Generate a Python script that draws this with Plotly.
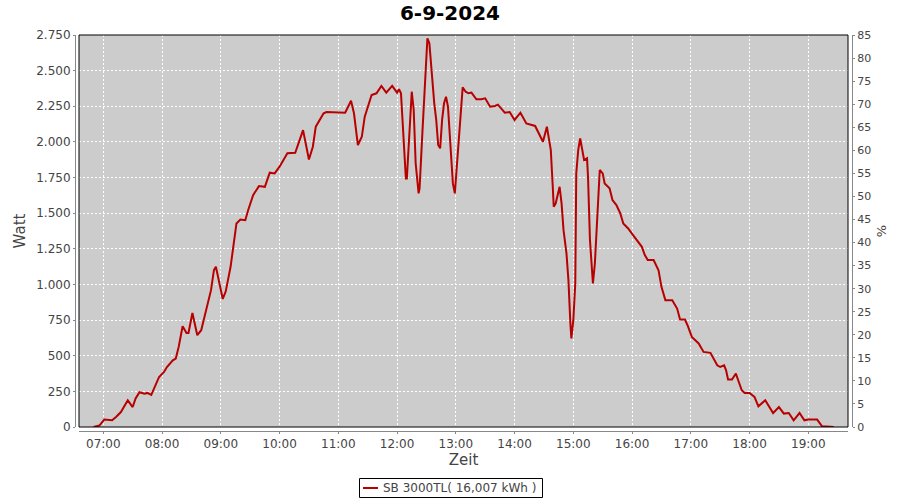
import plotly.graph_objects as go

DAY = "2024-09-06 "
times = ["06:50","06:56","07:01","07:06","07:09","07:13","07:18","07:25","07:30","07:33",
         "07:37","07:42","07:45","07:49","07:54","07:57","08:02","08:05","08:11","08:14",
         "08:17","08:21","08:25","08:27","08:31","08:36","08:40","08:45","08:50","08:53",
         "08:55","09:02","09:05","09:10","09:13","09:16","09:20","09:25","09:28","09:33",
         "09:39","09:45","09:50","09:55","10:00","10:08","10:16","10:24","10:30","10:34",
         "10:37","10:45","10:48","10:58","11:07","11:13","11:16","11:20","11:24","11:27",
         "11:34","11:39","11:44","11:49","11:55","12:00","12:02","12:04","12:06","12:09",
         "12:10","12:13","12:15","12:17","12:19","12:22","12:23","12:26","12:29","12:31",
         "12:33","12:35","12:38","12:40","12:42","12:44","12:46","12:48","12:50","12:52",
         "12:55","12:57","12:59","13:01","13:04","13:07","13:10","13:13","13:16","13:21",
         "13:26","13:30","13:35","13:40","13:43","13:50","13:55","14:00","14:06","14:12",
         "14:21","14:26","14:29","14:33","14:37","14:39","14:40","14:42","14:46","14:48",
         "14:50","14:53","14:55","14:57","14:58","15:00","15:02","15:03","15:05","15:07",
         "15:09","15:11","15:14","15:15","15:17","15:19","15:20","15:22","15:24","15:26",
         "15:27","15:30","15:32","15:37","15:40","15:44","15:48","15:51","15:56","16:01",
         "16:06","16:10","16:13","16:16","16:22","16:27","16:30","16:34","16:41","16:46",
         "16:49","16:54","16:57","17:01","17:08","17:13","17:20","17:23","17:27","17:30",
         "17:34","17:36","17:38","17:42","17:46","17:49","17:52","17:55","18:00","18:05",
         "18:09","18:16","18:19","18:24","18:30","18:35","18:40","18:45","18:51","18:56",
         "19:00","19:09","19:14","19:26"]
watt = [0,10,52,47,47,70,105,187,140,200,
        244,234,239,225,305,351,386,421,468,480,
        562,707,660,660,800,644,679,819,960,1100,
        1124,898,950,1124,1288,1428,1456,1451,1522,1627,
        1690,1685,1784,1779,1826,1920,1924,2083,1877,1966,
        2107,2201,2210,2205,2205,2289,2201,1978,2036,2177,
        2329,2341,2393,2346,2393,2346,2369,2341,2083,1744,
        1744,2083,2352,2224,1850,1639,1674,2083,2481,2727,
        2692,2505,2271,2154,1978,1955,2154,2271,2317,2247,
        1897,1709,1639,1826,2107,2383,2352,2341,2346,2299,
        2299,2306,2247,2252,2261,2205,2210,2154,2205,2130,
        2112,2036,2001,2107,1943,1685,1545,1569,1685,1569,
        1381,1218,1030,726,621,749,1007,1779,1943,2025,
        1943,1873,1885,1756,1311,1100,1007,1147,1428,1709,
        1803,1779,1709,1674,1592,1557,1498,1428,1393,1346,
        1299,1264,1206,1171,1171,1100,983,890,890,831,
        754,754,707,632,586,527,520,480,433,421,
        433,398,333,333,375,316,258,239,239,211,
        145,187,152,98,140,94,98,47,98,47,
        52,52,5,0]

series_name = "SB 3000TL( 16,007 kWh )"
title_text = "6-9-2024"
x_range = [DAY + "06:35:12", DAY + "19:40:30"]
tick_vals = [DAY + "%02d:00" % h for h in range(7, 20)]
tick_text = ["%02d:00" % h for h in range(7, 20)]

x = [DAY + t for t in times]
LINE_COLOR = "#b80000"

fig = go.Figure()
fig.add_trace(go.Scatter(x=x, y=watt, mode="lines", name=series_name,
                         showlegend=False,
                         line=dict(color=LINE_COLOR, width=2)))
fig.add_trace(go.Scatter(x=[x[0]], y=[0], yaxis="y2", mode="lines",
                         showlegend=False, hoverinfo="skip",
                         line=dict(color="rgba(0,0,0,0)")))

font = "DejaVu Sans, Verdana, sans-serif"
W, H = 900, 500
ml, mr, mt, mb = 75, 48, 35, 69
pw = W - ml - mr
ph = H - mt - mb
px0, px1 = 79, 848
py0, py1 = 35, 427


def fx(p):
    return (p - ml) / pw


def fy(p):
    return (H - mb - p) / ph


fig.update_layout(
    width=W, height=H,
    margin=dict(l=ml, r=mr, t=mt, b=mb, autoexpand=False),
    paper_bgcolor="white",
    plot_bgcolor="#cccccc",
    separators=",.",
    font=dict(family=font, color="#444444", size=12),
    title=dict(text="<b>" + title_text + "</b>", x=0.5, xanchor="center",
               y=1 - 13 / H, yanchor="middle",
               font=dict(family=font, size=20, color="black")),
    xaxis=dict(
        type="date", range=x_range, domain=[fx(px0), fx(px1)],
        anchor="free", position=0,
        tickvals=tick_vals, ticktext=tick_text,
        showgrid=True, gridcolor="white", gridwidth=1, griddash="2px,2px",
        showline=True, linecolor="#888888", linewidth=1,
        ticks="outside", ticklen=2, tickcolor="#888888",
        tickfont=dict(size=12, color="#444444"),
        title=dict(text="Zeit", font=dict(size=15, color="#444444"), standoff=2),
        zeroline=False,
    ),
    yaxis=dict(
        range=[0, 2750], dtick=250, tick0=0, tickformat=",d",
        domain=[fy(py1), 1],
        anchor="free", position=0,
        showgrid=True, gridcolor="white", gridwidth=1, griddash="2px,2px",
        showline=True, linecolor="#888888", linewidth=1,
        ticks="outside", ticklen=2, tickcolor="#888888",
        tickfont=dict(size=12, color="#444444"),
        title=dict(text="Watt", font=dict(size=15, color="#444444"), standoff=5),
        zeroline=False,
    ),
    yaxis2=dict(
        range=[0, 85], dtick=5, tick0=0,
        overlaying="y", side="right", anchor="free", position=1,
        showgrid=False, zeroline=False,
        showline=True, linecolor="#888888", linewidth=1,
        ticks="outside", ticklen=2, tickcolor="#888888",
        tickfont=dict(size=11, color="#444444"),
        title=dict(text="%", font=dict(size=13, color="#444444"), standoff=6),
    ),
    showlegend=False,
)

# plot frame
fig.add_shape(type="rect", xref="paper", yref="paper",
              x0=fx(px0), x1=fx(px1), y0=fy(py1), y1=1,
              line=dict(color="black", width=1), fillcolor="rgba(0,0,0,0)", layer="above")

# legend box (drawn like the reference's small framed legend)
lx0, lx1, ly0, ly1 = 359.5, 542.5, 478.5, 497.5
fig.add_shape(type="rect", xref="paper", yref="paper",
              x0=fx(lx0), x1=fx(lx1), y0=fy(ly1), y1=fy(ly0),
              line=dict(color="black", width=1), fillcolor="white")
fig.add_shape(type="line", xref="paper", yref="paper",
              x0=fx(363), x1=fx(378), y0=fy(488), y1=fy(488),
              line=dict(color=LINE_COLOR, width=2))
fig.add_annotation(xref="paper", yref="paper", x=fx(381), y=fy(488),
                   xanchor="left", yanchor="middle", showarrow=False,
                   text=series_name, font=dict(size=12, color="#444444"))

fig.write_html("out.html", config={"displayModeBar": False},
               post_script="document.body.style.margin='0';document.body.style.padding='0';")
